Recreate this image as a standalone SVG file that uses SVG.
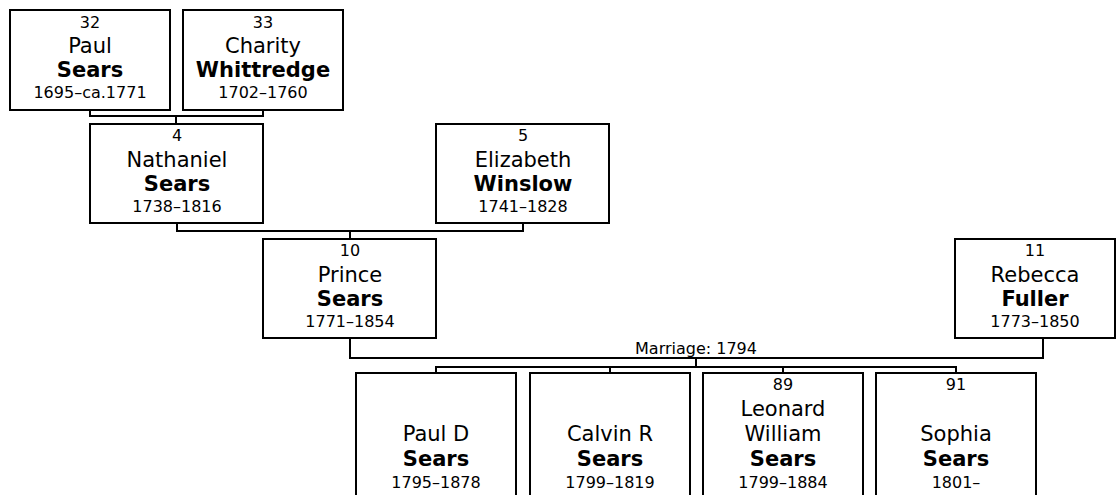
<svg xmlns="http://www.w3.org/2000/svg" width="1118" height="495" viewBox="0 0 1118 495">
<style>
.box{fill:#fff;stroke:#000;stroke-width:2}
.ln{fill:none;stroke:#000;stroke-width:2}
text{font-family:"DejaVu Sans","Verdana",sans-serif;fill:#000;text-anchor:middle}
.s{font-size:16px}
.n{font-size:21px}
.b{font-size:21px;font-weight:bold}
</style>
<rect width="1118" height="495" fill="#fff"/>
<g id="connectors">
<path class="ln" d="M90 110V116H263V110M176 116V124"/>
<path class="ln" d="M177 223V231H523V223M350 231V239"/>
<path class="ln" d="M350 338V358H1043V338"/>
<path class="ln" d="M696 358V367M436 373V367H956V373M610 367V373M783 367V373"/>
<text class="s" x="696" y="354">Marriage: 1794</text>
</g>
<g id="n32">
<rect class="box" x="10" y="10" width="160" height="100"/>
<text class="s" x="90" y="28">32</text>
<text class="n" x="90" y="53">Paul</text>
<text class="b" x="90" y="77">Sears</text>
<text class="s" x="90" y="98">1695–ca.1771</text>
</g>
<g id="n33">
<rect class="box" x="183" y="10" width="160" height="100"/>
<text class="s" x="263" y="28">33</text>
<text class="n" x="263" y="53">Charity</text>
<text class="b" x="263" y="77">Whittredge</text>
<text class="s" x="263" y="98">1702–1760</text>
</g>
<g id="n4">
<rect class="box" x="90" y="124" width="173" height="99"/>
<text class="s" x="177" y="141">4</text>
<text class="n" x="177" y="167">Nathaniel</text>
<text class="b" x="177" y="191">Sears</text>
<text class="s" x="177" y="212">1738–1816</text>
</g>
<g id="n5">
<rect class="box" x="436" y="124" width="173" height="99"/>
<text class="s" x="523" y="141">5</text>
<text class="n" x="523" y="167">Elizabeth</text>
<text class="b" x="523" y="191">Winslow</text>
<text class="s" x="523" y="212">1741–1828</text>
</g>
<g id="n10">
<rect class="box" x="263" y="239" width="173" height="99"/>
<text class="s" x="350" y="256">10</text>
<text class="n" x="350" y="282">Prince</text>
<text class="b" x="350" y="306">Sears</text>
<text class="s" x="350" y="327">1771–1854</text>
</g>
<g id="n11">
<rect class="box" x="955" y="239" width="160" height="99"/>
<text class="s" x="1035" y="256">11</text>
<text class="n" x="1035" y="282">Rebecca</text>
<text class="b" x="1035" y="306">Fuller</text>
<text class="s" x="1035" y="327">1773–1850</text>
</g>
<g id="c1">
<rect class="box" x="356" y="373" width="160" height="140"/>
<text class="n" x="436" y="441">Paul D</text>
<text class="b" x="436" y="466">Sears</text>
<text class="s" x="436" y="488">1795–1878</text>
</g>
<g id="c2">
<rect class="box" x="530" y="373" width="160" height="140"/>
<text class="n" x="610" y="441">Calvin R</text>
<text class="b" x="610" y="466">Sears</text>
<text class="s" x="610" y="488">1799–1819</text>
</g>
<g id="c3">
<rect class="box" x="703" y="373" width="160" height="140"/>
<text class="s" x="783" y="390">89</text>
<text class="n" x="783" y="416">Leonard</text>
<text class="n" x="783" y="441">William</text>
<text class="b" x="783" y="466">Sears</text>
<text class="s" x="783" y="488">1799–1884</text>
</g>
<g id="c4">
<rect class="box" x="876" y="373" width="160" height="140"/>
<text class="s" x="956" y="390">91</text>
<text class="n" x="956" y="441">Sophia</text>
<text class="b" x="956" y="466">Sears</text>
<text class="s" x="956" y="488">1801–</text>
</g>
</svg>
